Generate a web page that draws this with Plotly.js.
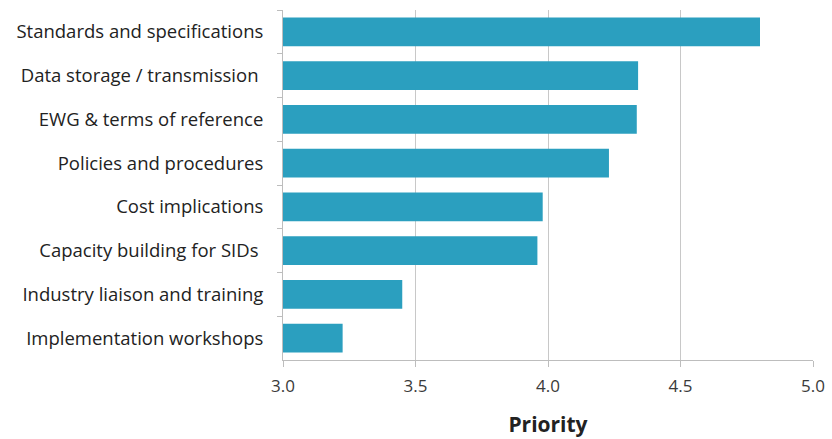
<!DOCTYPE html>
<html>
<head>
<meta charset="utf-8">
<script src="https://cdn.plot.ly/plotly-3.0.1.min.js"></script>
<style>html,body{margin:0;padding:0;background:#fff;}#chart{width:832px;height:439px;}</style>
</head>
<body>
<div id="chart"></div>
<script>
var categories = [
  "Standards and specifications",
  "Data storage / transmission ",
  "EWG & terms of reference",
  "Policies and procedures",
  "Cost implications",
  "Capacity building for SIDs ",
  "Industry liaison and training",
  "Implementation workshops"
];
var priority = [4.80, 4.34, 4.335, 4.23, 3.98, 3.96, 3.45, 3.225];
var tickValues = [3.0, 3.5, 4.0, 4.5, 5.0];
var tickLabels = ["3.0", "3.5", "4.0", "4.5", "5.0"];

var trace = {
  type: "bar",
  orientation: "h",
  y: categories,
  x: priority,
  base: 0,
  marker: {color: "#2b9fbf"},
  hoverinfo: "x+y"
};

var layout = {
  width: 832,
  height: 439,
  margin: {l: 283, r: 19, t: 10, b: 79},
  paper_bgcolor: "#fff",
  plot_bgcolor: "#fff",
  bargap: 0.34,
  showlegend: false,
  font: {family: "'Open Sans', Lato, sans-serif", color: "#222"},
  xaxis: {
    range: [3.0, 5.0],
    tickvals: tickValues,
    ticktext: tickLabels,
    showgrid: true,
    gridcolor: "#c8c8c8",
    gridwidth: 1,
    showline: true,
    linecolor: "#bdbdbd",
    linewidth: 1,
    ticks: "outside",
    ticklen: 6,
    tickcolor: "#bdbdbd",
    ticklabelstandoff: 5,
    tickfont: {size: 17, color: "#3a3a3a"},
    zeroline: false,
    title: {text: "<b>Priority</b>", font: {size: 21, color: "#222"}, standoff: 20}
  },
  yaxis: {
    type: "category",
    autorange: "reversed",
    showgrid: false,
    showline: true,
    linecolor: "#bdbdbd",
    linewidth: 1,
    ticks: "outside",
    tickson: "boundaries",
    ticklen: 5,
    tickcolor: "#bdbdbd",
    ticklabelstandoff: 15,
    tickfont: {size: 18.5, color: "#222"},
    zeroline: false
  }
};

Plotly.newPlot("chart", [trace], layout, {displayModeBar: false, staticPlot: true});
</script>
</body>
</html>
